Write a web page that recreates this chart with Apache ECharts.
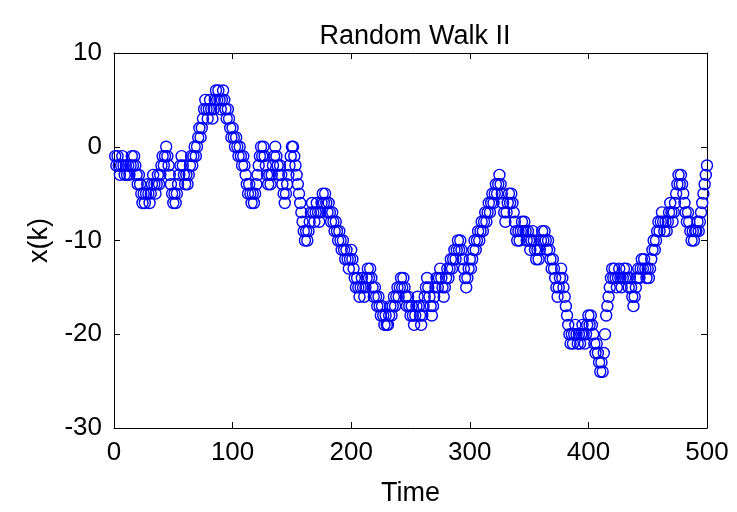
<!DOCTYPE html>
<html>
<head>
<meta charset="utf-8">
<script src="https://cdn.jsdelivr.net/npm/echarts@6/dist/echarts.min.js"></script>
<style>
  html, body { margin: 0; padding: 0; background: #ffffff; }
  #chart { width: 737px; height: 512px; }
</style>
</head>
<body>
<div id="chart"></div>
<script>
// Labels and ticks
const chartTitle = 'Random Walk II';
const xAxisName = 'Time';
const yAxisName = 'x(k)';
const xTicks = [0, 100, 200, 300, 400, 500];
const yTicks = [-30, -20, -10, 0, 10];

// Walk position x(k), k = 1..500, in blocks of 100 steps
const walkK001 = [
  -1,-2,-1,-2,-3,-2,-1,-2,-3,-2,  -3,-2,-3,-2,-1,-2,-1,-2,-3,-4,
  -3,-4,-5,-6,-5,-6,-5,-4,-5,-6,  -5,-4,-3,-4,-5,-4,-3,-4,-3,-2,
  -1,-2,-1,0,-1,-2,-3,-4,-5,-6,   -5,-6,-5,-4,-3,-2,-1,-2,-3,-4,
  -3,-4,-3,-2,-1,-2,-1,0,-1,0,    1,2,1,2,3,4,5,4,3,4,
  5,4,3,4,5,6,5,6,5,4,            5,6,5,4,3,4,3,2,1,2
];
const walkK101 = [
  1,0,1,0,-1,0,-1,-2,-1,-2,       -3,-4,-5,-4,-5,-6,-5,-6,-5,-4,
  -3,-2,-1,0,-1,0,-1,-2,-3,-4,    -3,-4,-3,-2,-1,0,-1,-2,-3,-2,
  -3,-4,-5,-6,-5,-4,-3,-2,-1,0,   0,-1,-2,-3,-4,-5,-6,-7,-8,-9,
  -10,-9,-10,-9,-8,-7,-6,-7,-8,-7, -6,-7,-8,-7,-6,-5,-6,-5,-6,-7,
  -6,-7,-8,-7,-8,-9,-8,-9,-10,-9, -10,-11,-10,-11,-12,-11,-12,-13,-12,-11
];
const walkK201 = [
  -12,-13,-14,-15,-14,-15,-16,-15,-14,-15, -16,-15,-14,-13,-14,-13,-14,-15,-16,-15,
  -16,-17,-16,-17,-18,-17,-18,-19,-18,-19, -19,-18,-17,-18,-17,-16,-17,-16,-15,-16,
  -15,-14,-15,-14,-15,-16,-17,-16,-17,-18, -17,-18,-19,-18,-17,-16,-17,-18,-19,-18,
  -17,-16,-15,-14,-15,-16,-17,-18,-17,-16, -15,-14,-15,-14,-13,-14,-15,-16,-15,-14,
  -13,-14,-13,-12,-13,-12,-11,-12,-11,-10, -11,-10,-11,-12,-13,-14,-15,-14,-13,-12
];
const walkK301 = [
  -13,-12,-11,-10,-11,-10,-9,-10,-9,-8,    -9,-8,-7,-8,-7,-6,-7,-6,-5,-6,
  -5,-4,-5,-4,-3,-4,-5,-6,-7,-8,           -7,-6,-5,-6,-5,-6,-7,-8,-9,-10,
  -9,-10,-9,-8,-9,-8,-9,-10,-9,-10,        -11,-10,-9,-10,-11,-12,-11,-12,-11,-10,
  -9,-10,-9,-10,-11,-10,-11,-12,-13,-12,   -13,-14,-15,-16,-15,-14,-13,-14,-15,-16,
  -17,-18,-19,-20,-21,-20,-21,-20,-19,-20, -21,-20,-21,-20,-19,-20,-21,-20,-19,-18
];
const walkK401 = [
  -19,-18,-19,-20,-21,-22,-21,-22,-23,-24, -23,-24,-22,-20,-18,-17,-16,-15,-14,-13,
  -14,-13,-14,-15,-14,-13,-14,-15,-14,-13, -14,-13,-14,-15,-14,-15,-16,-17,-16,-15,
  -14,-13,-14,-13,-12,-13,-12,-13,-14,-13, -14,-13,-12,-11,-10,-11,-10,-9,-8,-9,
  -8,-7,-8,-9,-8,-9,-8,-7,-6,-7,           -8,-7,-6,-5,-4,-3,-4,-3,-4,-5,
  -6,-7,-8,-7,-8,-9,-10,-9,-10,-9,         -9,-8,-9,-8,-7,-6,-5,-4,-3,-2
];

const walk = walkK001.concat(walkK101, walkK201, walkK301, walkK401);
const points = walk.map((v, i) => [i + 1, v]);

const FONT = '"Liberation Sans", Arial, Helvetica, sans-serif';
const axisColor = '#000000';

function boxAxis(pos, ticks, showLabels) {
  return {
    type: 'value',
    position: pos,
    min: ticks[0],
    max: ticks[ticks.length - 1],
    interval: ticks[1] - ticks[0],
    axisLine: { show: true, onZero: false, lineStyle: { color: axisColor, width: 1 } },
    axisTick: { show: true, inside: true, length: 6, lineStyle: { color: axisColor, width: 1 } },
    axisLabel: {
      show: showLabels,
      color: '#000000',
      fontFamily: FONT,
      fontSize: 26,
      margin: 12
    },
    splitLine: { show: false }
  };
}

const xBottom = boxAxis('bottom', xTicks, true);
xBottom.name = xAxisName;
xBottom.nameLocation = 'middle';
xBottom.nameGap = 52;
xBottom.nameTextStyle = { color: '#000000', fontFamily: FONT, fontSize: 27 };
const xTop = boxAxis('top', xTicks, false);

const yLeft = boxAxis('left', yTicks, true);
yLeft.name = yAxisName;
yLeft.nameLocation = 'middle';
yLeft.nameRotate = 90;
yLeft.nameGap = 58;
yLeft.nameTextStyle = { color: '#000000', fontFamily: FONT, fontSize: 27 };
const yRight = boxAxis('right', yTicks, false);

const chart = echarts.init(document.getElementById('chart'), null, { renderer: 'canvas' });
chart.setOption({
  animation: false,
  backgroundColor: '#ffffff',
  title: {
    text: chartTitle,
    left: 410,
    textAlign: 'center',
    top: 18,
    textStyle: { color: '#000000', fontFamily: FONT, fontSize: 27, fontWeight: 'normal' }
  },
  grid: { left: 114, right: 30, top: 53, bottom: 77, containLabel: false },
  xAxis: [xBottom, xTop],
  yAxis: [yLeft, yRight],
  series: [{
    type: 'scatter',
    xAxisIndex: 0,
    yAxisIndex: 0,
    data: points,
    symbol: 'circle',
    symbolSize: 11,
    clip: false,
    itemStyle: { color: 'rgba(0,0,0,0)', borderColor: '#0000ff', borderWidth: 1.4, opacity: 1 },
    emphasis: { disabled: true }
  }]
});
</script>
</body>
</html>
